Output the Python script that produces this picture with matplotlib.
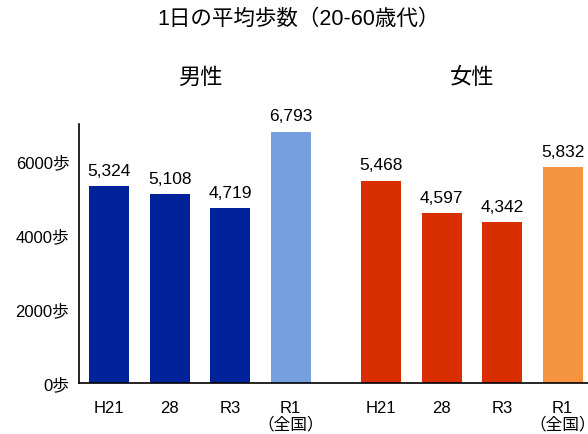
import matplotlib.pyplot as plt

plt.rcParams['font.family'] = ['Liberation Sans', 'Noto Sans CJK JP', 'DejaVu Sans']

groups = ['男性', '女性']
years = ['H21', '28', 'R3', 'R1\n（全国）']
male = [5324, 5108, 4719, 6793]
female = [5468, 4597, 4342, 5832]
male_colors = ['#00239c', '#00239c', '#00239c', '#74a0e0']
female_colors = ['#d92e00', '#d92e00', '#d92e00', '#f5943f']
yticks = [0, 2000, 4000, 6000]

fig = plt.figure(figsize=(5.88, 4.35), dpi=100)
ax = fig.add_axes([0.1344, 0.1172, 0.8656, 0.5954])

gap = 4.5
xm = [i for i in range(len(years))]
xf = [i + gap for i in range(len(years))]

for xs, vals, cols in [(xm, male, male_colors), (xf, female, female_colors)]:
    ax.bar(xs, vals, width=0.66, color=cols)
    for x, v in zip(xs, vals):
        ax.annotate(f'{v:,}', xy=(x, v), xytext=(0, 6), textcoords='offset points',
                    ha='center', va='bottom', fontsize=12.5)

ax.set_xticks(xm + xf)
ax.set_xticklabels(years + years, fontsize=12, linespacing=1.1)
ax.set_yticks(yticks)
ax.set_yticklabels([f'{t}歩' for t in yticks], fontsize=12)
ax.set_xlim(-0.5, 7.92)
ax.set_ylim(0, 7000)
ax.tick_params(axis='y', length=0, pad=7)
ax.tick_params(axis='x', length=0, pad=12)
ax.spines['top'].set_visible(False)
ax.spines['right'].set_visible(False)
ax.spines['left'].set_linewidth(1.2)
ax.spines['bottom'].set_linewidth(1.2)

ax.text(1.5, 8250, groups[0], ha='center', va='center', fontsize=16)
ax.text(1.5 + gap, 8250, groups[1], ha='center', va='center', fontsize=16)
fig.text(0.507, 0.955, '1日の平均歩数（20-60歳代）', ha='center', va='center', fontsize=15.5)

fig.savefig('out.png')
